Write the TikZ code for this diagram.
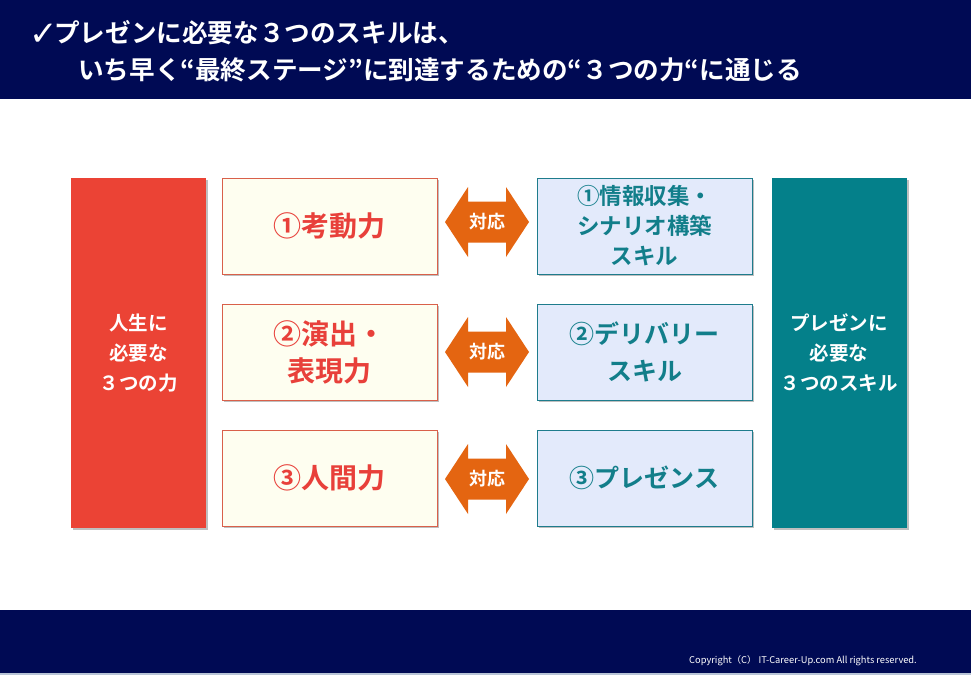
\documentclass[tikz,border=0pt]{standalone}
\usepackage{fontspec}
\setmainfont{Noto Sans CJK JP}[BoldFont={Noto Sans CJK JP Bold}]
\newfontfamily\symfont{DejaVu Sans}
\usetikzlibrary{shadows}
\definecolor{navy}{HTML}{000A54}
\definecolor{redbox}{HTML}{EB4335}
\definecolor{redline}{HTML}{D9604A}
\definecolor{redtext}{HTML}{E8403A}
\definecolor{cream}{HTML}{FEFEF0}
\definecolor{lightblue}{HTML}{E3EAFB}
\definecolor{tealline}{HTML}{1E7C8C}
\definecolor{tealtext}{HTML}{127E8A}
\definecolor{tealbox}{HTML}{04808A}
\definecolor{arrorange}{HTML}{E46511}
\definecolor{footline}{HTML}{B8C4D6}
\tikzset{
  shad/.style={drop shadow={shadow xshift=2pt, shadow yshift=-2pt, fill=black, opacity=0.25}},
  bigbox/.style={shad, minimum width=135pt, minimum height=350pt, inner sep=0pt, align=center,
    text=white, font=\fontsize{19.5}{30}\selectfont\bfseries},
  leftbox/.style={shad, draw=redline, line width=0.8pt, fill=cream, minimum width=215pt, minimum height=96pt,
    inner sep=0pt, align=center, text=redtext, font=\fontsize{28}{37}\selectfont\bfseries},
  rightbox/.style={shad, draw=tealline, line width=0.8pt, fill=lightblue, minimum width=215pt, minimum height=96pt,
    inner sep=0pt, align=center, text=tealtext, font=\fontsize{25}{37}\selectfont\bfseries},
  arrlbl/.style={inner sep=0pt, text=white, font=\fontsize{18}{20}\selectfont\bfseries},
  title/.style={anchor=west, inner sep=0pt, text=white, font=\fontsize{25.6}{30}\selectfont\bfseries},
  chkstyle/.style={anchor=west, inner sep=0pt, text=white, font=\symfont\fontsize{34}{36}\selectfont}
}
\begin{document}
\begin{tikzpicture}[x=1pt,y=-1pt]
\useasboundingbox (0,0) rectangle (971,675);
\fill[white] (0,0) rectangle (971,675);
% header and footer
\fill[navy] (0,0) rectangle (971,99);
\fill[navy] (0,610) rectangle (971,673);
\fill[footline] (0,673) rectangle (971,675);
\node[chkstyle] (chk) at (29,35) {✓};
\node[title] (t1) at (54,33) {プレゼンに必要な３つのスキルは、};
\node[title] (t2) at (78,70) {いち早く“最終ステージ”に到達するための“３つの力“に通じる};
\node[anchor=east, inner sep=0pt, text=white, font=\fontsize{9.3}{11}\selectfont] (copy) at (917,661)
  {Copyright（C） IT-Career-Up.com All rights reserved.};
% big side boxes
\node[bigbox, fill=redbox] (life) at (138.5,353) {人生に\\必要な\\３つの力};
\node[bigbox, fill=tealbox] (skill) at (839,353) {プレゼンに\\必要な\\３つのスキル};
% left boxes
\node[leftbox] (l1) at (329.5,226) {①考動力};
\node[leftbox] (l2) at (329.5,352) {②演出・\\表現力};
\node[leftbox] (l3) at (329.5,478) {③人間力};
% right boxes
\node[rightbox, font=\fontsize{22.5}{30}\selectfont\bfseries] (r1) at (644.5,226) {①情報収集・\\シナリオ構築\\スキル};
\node[rightbox] (r2) at (644.5,352) {②デリバリー\\スキル};
\node[rightbox] (r3) at (644.5,478) {③プレゼンス};
% double arrows
\foreach \n/\y in {1/222,2/352,3/479}{
  \fill[arrorange] (445,\y) -- (468,\y-35) -- (468,\y-20.5) -- (506,\y-20.5) -- (506,\y-35) -- (529,\y)
    -- (506,\y+35) -- (506,\y+20.5) -- (468,\y+20.5) -- (468,\y+35) -- cycle;
  \node[arrlbl] (a\n) at (487,\y) {対応};
}
\end{tikzpicture}
\end{document}
